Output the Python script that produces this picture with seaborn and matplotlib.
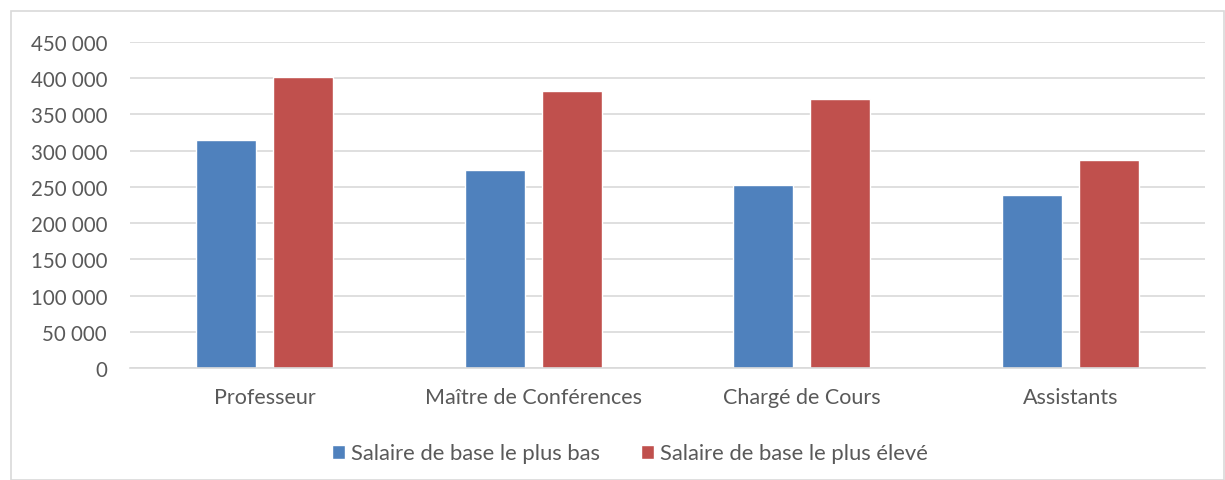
import numpy as np
import matplotlib
matplotlib.use('Agg')
import matplotlib.pyplot as plt
import pandas as pd
import seaborn as sns
from matplotlib.patches import Rectangle
from matplotlib.ticker import FuncFormatter

sns.set_style('white')
plt.rcParams['font.family'] = ['Lato', 'DejaVu Sans']
plt.rcParams['font.size'] = 12

categories = ['Professeur', 'Maître de Conférences', 'Chargé de Cours', 'Assistants']
salaire_bas = [314500, 273000, 252000, 238500]
salaire_haut = [401500, 383000, 371000, 286500]
series = ['Salaire de base le plus bas', 'Salaire de base le plus élevé']
colors = ['#4f81bd', '#c0504d']

df = pd.DataFrame({
    'cat': categories * 2,
    'val': salaire_bas + salaire_haut,
    'serie': [series[0]] * 4 + [series[1]] * 4,
})

fig = plt.figure(figsize=(12.25, 4.81), dpi=100)
ax = fig.add_axes([130 / 1225, 112 / 481, 1075 / 1225, 326 / 481])

sns.barplot(data=df, x='cat', y='val', hue='serie', palette=colors,
            width=0.572, gap=0.22, ax=ax, saturation=1, errorbar=None)

ax.set_ylim(0, 450000)
ax.set_xlim(-0.5, 3.5)
ax.set_yticks(np.arange(0, 450001, 50000))
ax.yaxis.set_major_formatter(FuncFormatter(lambda v, p: f'{int(v):,}'.replace(',', ' ')))
ax.grid(axis='y', color='#d9d9d9', lw=1.2)
ax.set_axisbelow(True)
for s in ['top', 'right', 'left']:
    ax.spines[s].set_visible(False)
ax.spines['bottom'].set_color('#d9d9d9')
ax.spines['bottom'].set_linewidth(1.2)
ax.tick_params(axis='both', length=0, colors='#595959')
ax.tick_params(axis='x', pad=14, labelsize=15.5)
ax.tick_params(axis='y', pad=16.5, labelsize=14.8)
ax.set_xlabel('')
ax.set_ylabel('')

handles, labels = ax.get_legend_handles_labels()
ax.legend(handles, labels, loc='center', bbox_to_anchor=(0.465, -0.262), ncol=2,
          frameon=False, handlelength=0.6, handleheight=0.6, handletextpad=0.25,
          columnspacing=1.9, labelcolor='#595959', fontsize=15.8)

fig.patches.append(Rectangle((11 / 1225, 0), 1 - 11 / 1225 - 0.001, 1 - 12 / 481,
                             transform=fig.transFigure, fill=False,
                             edgecolor='#d9d9d9', lw=1.2))

fig.savefig('out.png', dpi=100)
